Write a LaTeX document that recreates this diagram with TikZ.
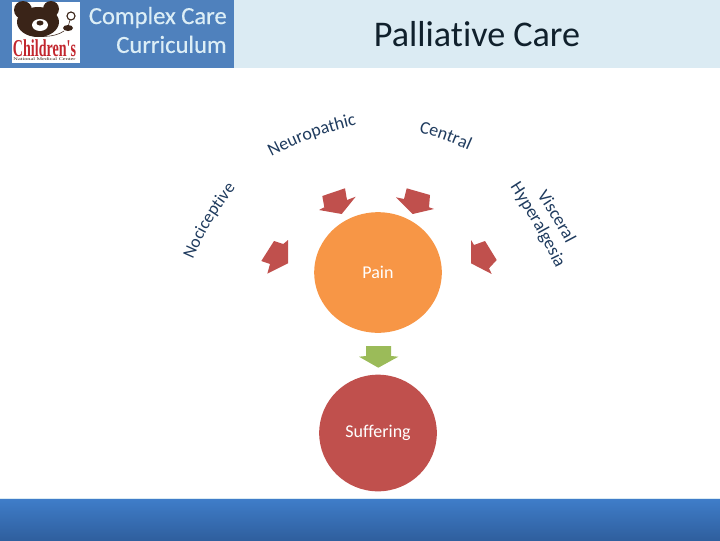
\documentclass[tikz,border=0pt]{standalone}
\usepackage{fontspec}
\setmainfont{Carlito}[Ligatures=NoCommon]
\newfontfamily\logofont{Liberation Serif}
\usetikzlibrary{shapes.geometric,decorations.text,positioning}
\definecolor{headblue}{HTML}{4F81BD}
\definecolor{headpale}{HTML}{DBEBF3}
\definecolor{headtext}{HTML}{DCEEF6}
\definecolor{navy}{HTML}{1F3B5E}
\definecolor{titleink}{HTML}{10202C}
\definecolor{brick}{HTML}{C0504D}
\definecolor{orangefill}{HTML}{F79646}
\definecolor{leaf}{HTML}{9BBB59}
\definecolor{bear}{HTML}{3A2418}
\definecolor{logored}{HTML}{C2262E}
\definecolor{footlight}{HTML}{3F7DC9}
\definecolor{footdark}{HTML}{2F5F9E}

\begin{document}
\begin{tikzpicture}[
  x=0.025cm,y=-0.025cm,
  circ/.style={ellipse,inner sep=0pt,text=white,font=\fontsize{12.8}{15}\selectfont},
  blockarrow/.style={fill=brick},
]
\useasboundingbox (0,0) rectangle (720,540);

% header
\fill[headpale] (234,0) rectangle (720,68);
\fill[headblue] (0,0) rectangle (234,68);
\node[font=\fontsize{17.5}{20.5}\selectfont\addfontfeatures{FakeBold=0.4},text=headtext,align=right,anchor=east,inner sep=0pt] (curriculum) at (227,30) {Complex Care\\Curriculum};
\node[font=\fontsize{25.7}{28}\selectfont,text=titleink] (title) at (477,34) {Palliative Care};

% logo
\fill[white] (12,2) rectangle (80,63);
\fill[bear] (23,10) circle (9);
\fill[bear] (51,9) circle (8);
\fill[bear] (38,22) ellipse (21 and 15);
\fill[white] (40,25) ellipse (8 and 6);
\fill[bear] (40,23) ellipse (3.5 and 2.5);
\draw[bear,thick] (71,16) circle (4);
\fill[bear] (68,28) ellipse (5 and 3);
\draw[bear] (25,33) .. controls (32,38) and (55,38) .. (64,31);
\draw[bear] (70,20) -- (68,27);
\node[font=\logofont\bfseries,text=logored,inner sep=0pt] (childrens) at (44.5,48) {\resizebox{1.575cm}{0.42cm}{Children's}};
\node[font=\logofont,text=bear,inner sep=0pt] (center) at (44.5,59) {\resizebox{1.55cm}{0.07cm}{National Medical Center}};

% circles
\node[circ,fill=orangefill,minimum width=64pt*1.418,minimum height=60.5pt*1.418] (pain) at (378,272.5) {Pain};
\node[circ,fill=brick,minimum width=59pt*1.418,minimum height=58.5pt*1.418] (suffering) at (378,433) {Suffering};

% arrows
\fill[blockarrow] (322.3,196) -- (345,188.3) -- (347,200) -- (355.7,196.7) -- (341.7,214) -- (319,210) -- (324.3,207.3) -- cycle;
\fill[blockarrow] (274,241) -- (283.3,244) -- (288,240) -- (288,263.3) -- (267.3,273.7) -- (270,264) -- (261.3,261) -- cycle;
\fill[blockarrow] (406.7,188.3) -- (430,195) -- (429,207.3) -- (434,209) -- (412.7,214) -- (396,197.3) -- (404,199) -- cycle;
\fill[blockarrow] (471,240) -- (474,245) -- (485,241) -- (496.7,260) -- (489,268.3) -- (491.7,274) -- (471,263.3) -- cycle;
\fill[leaf] (366,346) -- (391,346) -- (391,356) -- (398.3,356.7) -- (378.3,367.7) -- (359,356.7) -- (366,356) -- cycle;

% labels on arcs
\path[decorate,decoration={text along path,text align=center,text={|\fontsize{12.4}{14}\selectfont\color{navy}|Nociceptive}}]
  (191,264) to[bend left=8] (239,184);
\path[decorate,decoration={text along path,text align=center,text={|\fontsize{12.8}{14}\selectfont\color{navy}|Neuropathic}}]
  (263,161) to[bend left=8] (366,123);
\path[decorate,decoration={text along path,text align=center,text={|\fontsize{12.8}{14}\selectfont\color{navy}|Central}}]
  (410,130) to[bend left=5] (477,154);
\path[decorate,decoration={text along path,text align=center,text={|\fontsize{12.8}{14}\selectfont\color{navy}|Visceral}}]
  (531,187) to[bend left=4] (571,253);
\path[decorate,decoration={text along path,text align=center,text={|\fontsize{12.8}{14}\selectfont\color{navy}|Hyperalgesia}}]
  (505,179) to[bend left=4] (560,277);

% footer
\fill[headpale] (0,498) rectangle (720,499);
\shade[top color=footlight,bottom color=footdark] (0,499) rectangle (720,540);
\end{tikzpicture}
\end{document}
